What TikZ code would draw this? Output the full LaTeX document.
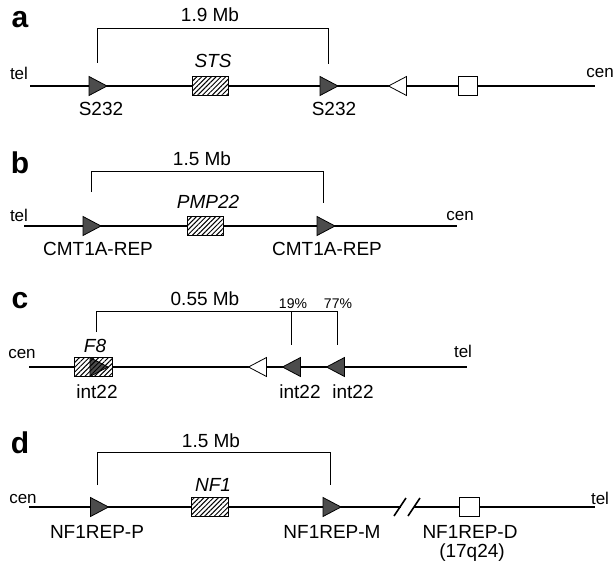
\documentclass[tikz,border=0pt]{standalone}
\usepackage{fontspec}
\setmainfont{Liberation Sans}
\usetikzlibrary{patterns.meta}
\tikzset{
 every node/.style={inner sep=0pt, anchor=base},
 lab/.style={font=\fontsize{19}{22}\selectfont},
 gene/.style={font=\fontsize{19}{22}\selectfont\itshape},
 endlab/.style={font=\fontsize{17}{20}\selectfont},
 pct/.style={font=\fontsize{14}{16}\selectfont},
 panel/.style={font=\fontsize{30}{34}\selectfont\bfseries},
 chrom/.style={line width=1.3pt},
 brk/.style={line width=1pt},
 tri/.style={draw=black, fill=black!70, line width=0.8pt, line join=miter},
 otri/.style={draw=black, fill=white, line width=0.8pt, line join=miter},
 hatch/.style={pattern={Lines[angle=45,distance=3.4pt,line width=1pt]}},
 hatchbox/.style={draw=black, line width=0.9pt, preaction={fill=white}, hatch},
 sqbox/.style={draw=black, fill=white, line width=0.8pt},
 slash/.style={line width=1.6pt},
}
\newcommand{\RTri}[3][tri]{\filldraw[#1] ({#2-9},{#3-9.5}) -- ({#2+9},{#3}) -- ({#2-9},{#3+9.5}) -- cycle;}
\newcommand{\LTri}[3][tri]{\filldraw[#1] ({#2+9},{#3-9.5}) -- ({#2-9},{#3}) -- ({#2+9},{#3+9.5}) -- cycle;}
\begin{document}
\begin{tikzpicture}[x=1pt,y=-1pt]
\useasboundingbox[fill=white] (0,0) rectangle (615,567);
% ---------- panel a
\node[panel] (la) at (20,28) {a};
\node[lab] (mba) at (210,22) {1.9 Mb};
\draw[brk] (97,63) -- (97,29) -- (328,29) -- (328,64);
\coordinate (a0) at (30,86); \coordinate (a1) at (595,86);
\draw[chrom] (a0) -- (a1);
\node[endlab] (tela) at (19,80) {tel};
\node[endlab] (cena) at (600,78) {cen};
\RTri{98}{86}
\draw[hatchbox] (192,76.5) rectangle (228,95.5);
\node[gene] (sts) at (213,68) {STS};
\RTri{329}{86}
\LTri[otri]{397.5}{86}
\draw[sqbox] (458,76.5) rectangle (477,95.5);
\node[lab] (sa1) at (101,116) {S232};
\node[lab] (sa2) at (334,116) {S232};
% ---------- panel b
\node[panel] (lb) at (20,173) {b};
\node[lab] (mbb) at (202,165) {1.5 Mb};
\draw[brk] (91,192) -- (91,171) -- (323,171) -- (323,203);
\coordinate (b0) at (24,226); \coordinate (b1) at (457,226);
\draw[chrom] (b0) -- (b1);
\node[endlab] (telb) at (19,221) {tel};
\node[endlab] (cenb) at (460,220) {cen};
\RTri{92}{226}
\draw[hatchbox] (187,216.5) rectangle (223,235.5);
\node[gene] (pmp) at (208,208) {PMP22};
\RTri{326}{226}
\node[lab] (cb1) at (98,255) {CMT1A-REP};
\node[lab] (cb2) at (327,255) {CMT1A-REP};
% ---------- panel c
\node[panel] (lc) at (20,308) {c};
\node[lab] (mbc) at (205,305) {0.55 Mb};
\draw[brk] (96,332) -- (96,311) -- (337,311) -- (337,345);
\draw[brk] (291,311) -- (291,345);
\node[pct] (p19) at (293,308) {19\%};
\node[pct] (p77) at (338,308) {77\%};
\coordinate (c0) at (29,367); \coordinate (c1) at (467,367);
\draw[chrom] (c0) -- (c1);
\node[endlab] (cenc) at (22,358) {cen};
\node[endlab] (telc) at (463,357) {tel};
\draw[hatchbox] (74,357.5) rectangle (112,376.5);
\RTri{99}{367}
\path[hatch] (90,357.5) -- (108,367) -- (90,376.5) -- cycle;
\node[gene] (f8) at (95,352) {F8};
\node[lab] (ic1) at (97,398) {int22};
\LTri[otri]{257.5}{367}
\LTri{291.5}{367}
\LTri{335.5}{367}
\node[lab] (ic2) at (300,398) {int22};
\node[lab] (ic3) at (353,398) {int22};
% ---------- panel d
\node[panel] (ld) at (20,453) {d};
\node[lab] (mbd) at (211,447) {1.5 Mb};
\draw[brk] (97,485) -- (97,452) -- (330,452) -- (330,485);
\coordinate (d0) at (29,507); \coordinate (d1) at (401,507);
\coordinate (d2) at (414,507); \coordinate (d3) at (595,507);
\draw[chrom] (d0) -- (d1);
\draw[chrom] (d2) -- (d3);
\draw[slash] (394,516) -- (406,498);
\draw[slash] (408,516) -- (420,498);
\node[endlab] (cend) at (23,503) {cen};
\node[endlab] (teld) at (600,504) {tel};
\RTri{99.5}{507}
\draw[hatchbox] (191,497.5) rectangle (228,516.5);
\node[gene] (nf1) at (213,491) {NF1};
\RTri{332}{507}
\draw[sqbox] (459,497.5) rectangle (479,516.5);
\node[lab] (nd1) at (97,538) {NF1REP-P};
\node[lab] (nd2) at (332,538) {NF1REP-M};
\node[lab] (nd3) at (470,538) {NF1REP-D};
\node[lab] (nd4) at (472,557) {(17q24)};
\end{tikzpicture}
\end{document}
